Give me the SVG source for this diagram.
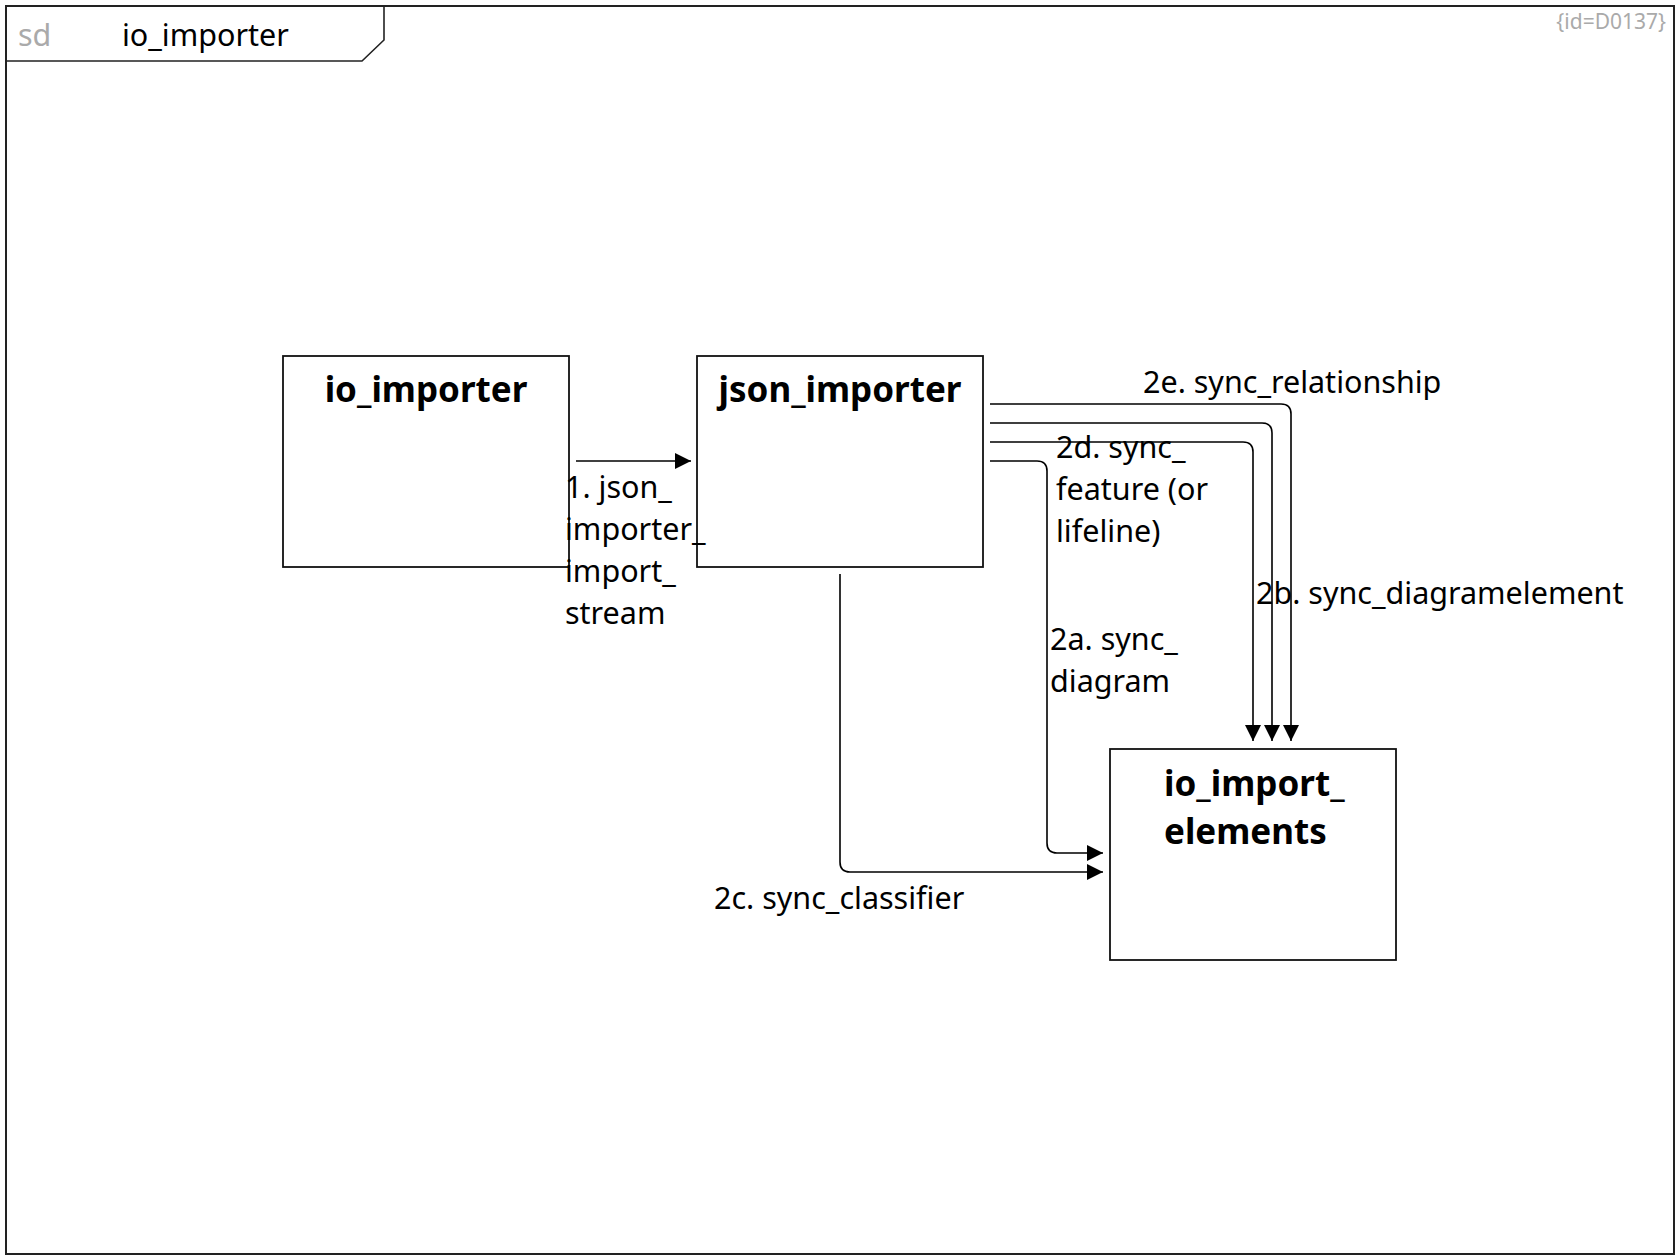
<svg xmlns="http://www.w3.org/2000/svg" width="1680" height="1260" viewBox="0 0 1680 1260">
<defs>
<marker id="arr" viewBox="0 0 16 16" refX="16" refY="8" markerWidth="16" markerHeight="16" markerUnits="userSpaceOnUse" orient="auto">
<path d="M0,0 L16,8 L0,16 Z" fill="#000"/>
</marker>
<style>
.frame{fill:#fff;stroke:#222;stroke-width:2}
.box{fill:#fff;stroke:#111;stroke-width:1.8}
.conn{fill:none;stroke:#000;stroke-width:1.6;marker-end:url(#arr)}
.lbl{font-family:"Noto Sans","Open Sans",sans-serif;font-size:30.5px;fill:#000}
.nlbl{font-family:"Noto Sans","Open Sans",sans-serif;font-size:35px;font-weight:bold;fill:#000}
.sd{font-family:"Noto Sans","Open Sans",sans-serif;font-size:30.5px;fill:#aaa}
.id{font-family:"Noto Sans","Open Sans",sans-serif;font-size:21px;fill:#aaa}
</style>
</defs>
<rect x="0" y="0" width="1680" height="1260" fill="#fff"/>
<g id="frame">
<rect class="frame" x="6" y="6" width="1668" height="1248"/>
<path d="M6,61 H362 L384,40 V6" fill="none" stroke="#222" stroke-width="1.6"/>
<text class="sd" x="18" y="46">sd</text>
<text class="lbl" x="122" y="46">io_importer</text>
<text class="id" x="1666" y="29" text-anchor="end">{id=D0137}</text>
</g>
<g id="node-io_importer">
<rect class="box" x="283" y="356" width="286" height="211"/>
<text class="nlbl" x="426" y="402" text-anchor="middle">io_importer</text>
</g>
<g id="node-json_importer">
<rect class="box" x="697" y="356" width="286" height="211"/>
<text class="nlbl" x="840" y="402" text-anchor="middle">json_importer</text>
</g>
<g id="node-io_import_elements">
<rect class="box" x="1110" y="749" width="286" height="211"/>
<text class="nlbl" x="1164" y="796">io_import_</text>
<text class="nlbl" x="1164" y="844">elements</text>
</g>
<g id="connectors">
<path class="conn" d="M576,461 H691"/>
<path class="conn" d="M990,404 H1281 Q1291,404 1291,414 V741"/>
<path class="conn" d="M990,423 H1262 Q1272,423 1272,433 V741"/>
<path class="conn" d="M990,442 H1243 Q1253,442 1253,452 V741"/>
<path class="conn" d="M990,461 H1037 Q1047,461 1047,471 V843 Q1047,853 1057,853 H1103"/>
<path class="conn" d="M840,574 V862 Q840,872 850,872 H1103"/>
<text class="lbl" x="565" y="498">1. json_</text>
<text class="lbl" x="565" y="540">importer_</text>
<text class="lbl" x="565" y="582">import_</text>
<text class="lbl" x="565" y="624">stream</text>
<text class="lbl" x="1143" y="393">2e. sync_relationship</text>
<text class="lbl" x="1256" y="604">2b. sync_diagramelement</text>
<text class="lbl" x="1056" y="458">2d. sync_</text>
<text class="lbl" x="1056" y="500">feature (or</text>
<text class="lbl" x="1056" y="542">lifeline)</text>
<text class="lbl" x="1050" y="650">2a. sync_</text>
<text class="lbl" x="1050" y="692">diagram</text>
<text class="lbl" x="714" y="909">2c. sync_classifier</text>
</g>
</svg>
